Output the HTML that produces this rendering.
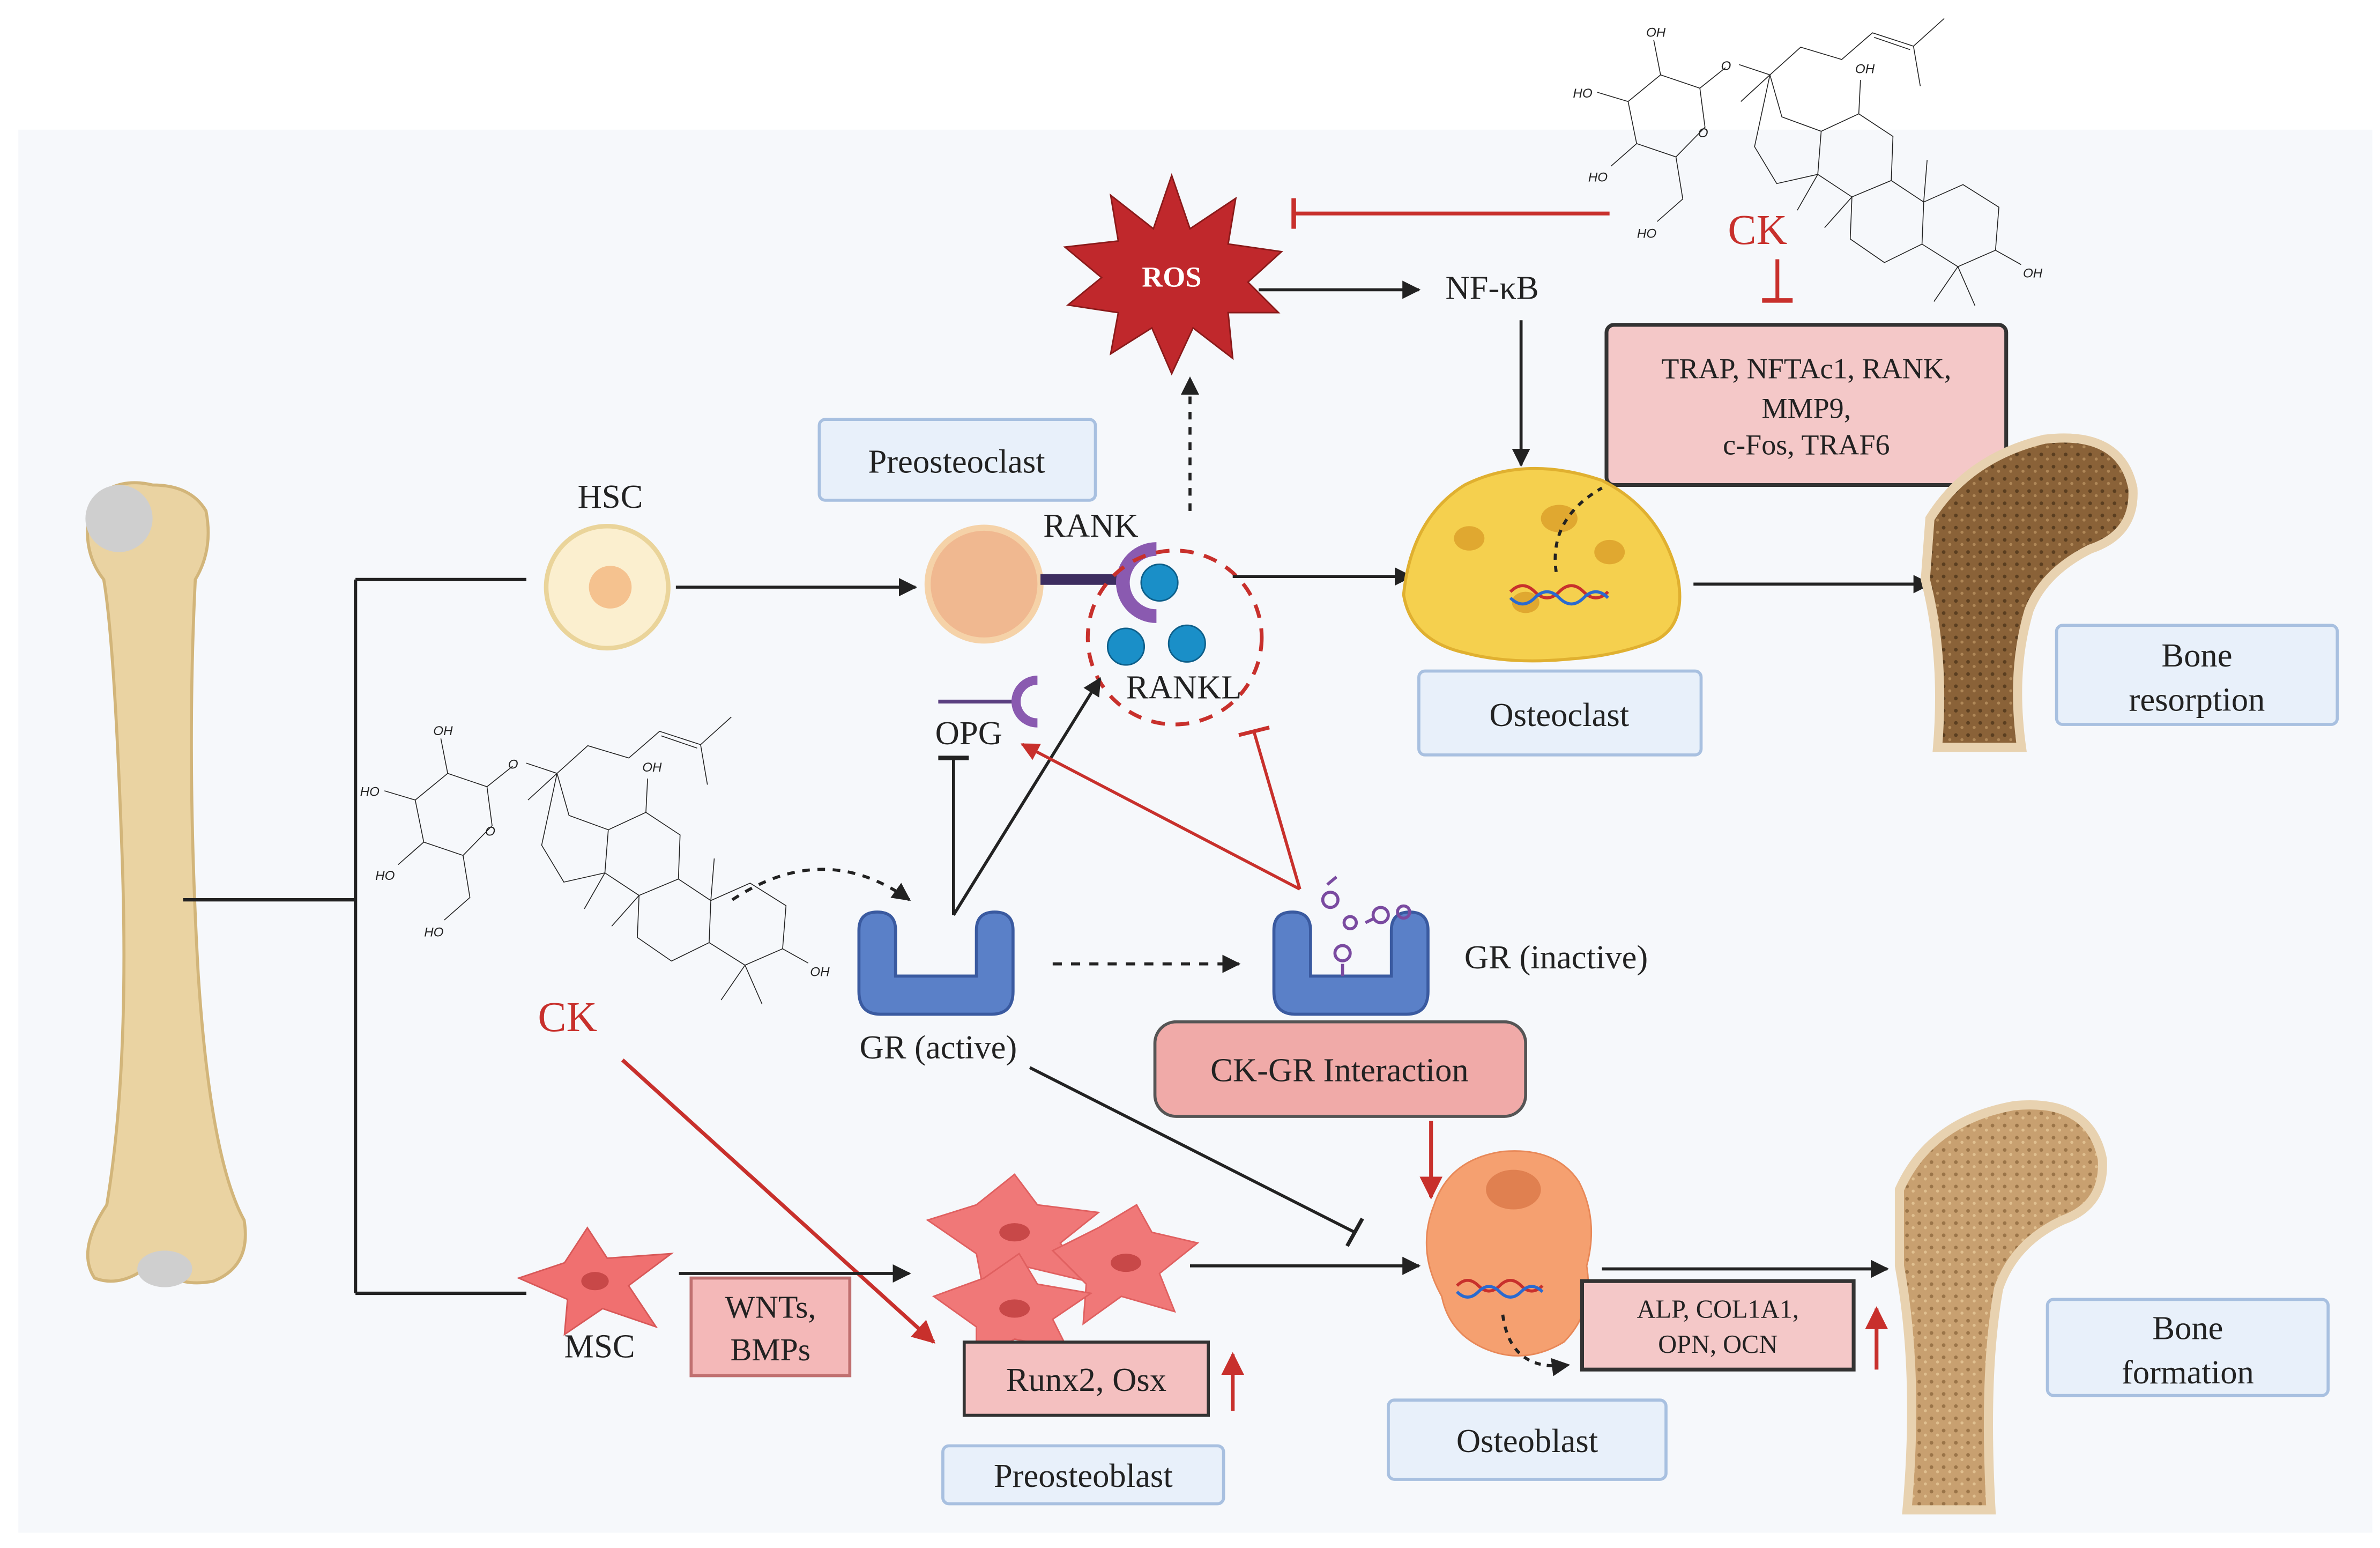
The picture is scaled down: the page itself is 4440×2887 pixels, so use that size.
<!DOCTYPE html>
<html><head><meta charset="utf-8"><style>
html,body{margin:0;padding:0;background:#fff;}
svg{display:block;}
text{font-family:"Liberation Serif",serif;fill:#222;}
.m{fill:none;stroke:#222;stroke-width:1.6;}
.mt{font-family:"Liberation Sans",sans-serif;font-size:8.5px;font-style:italic;fill:#222;}
</style></head><body>
<svg width="4440" height="2887" viewBox="0 0 1560 1015" preserveAspectRatio="none" xmlns="http://www.w3.org/2000/svg">
<defs>
<marker id="ab" viewBox="0 0 10 10" refX="9" refY="5" markerWidth="6" markerHeight="6" orient="auto"><path d="M0,0 L10,5 L0,10 z" fill="#222"/></marker>
<marker id="ar" viewBox="0 0 10 10" refX="9" refY="5" markerWidth="6" markerHeight="6" orient="auto"><path d="M0,0 L10,5 L0,10 z" fill="#c8302c"/></marker>
<pattern id="sp" width="8" height="8" patternUnits="userSpaceOnUse"><rect width="8" height="8" fill="#8a6238"/><circle cx="2" cy="2" r="1.2" fill="#5a3e20"/><circle cx="6" cy="5" r="1" fill="#b08858"/></pattern>
<pattern id="sp2" width="8" height="8" patternUnits="userSpaceOnUse"><rect width="8" height="8" fill="#c8a070"/><circle cx="2" cy="2" r="1.2" fill="#9a7448"/><circle cx="6" cy="5" r="1" fill="#e0c090"/></pattern>
<g id="mol">
<path vector-effect="non-scaling-stroke" class="m" d="M310,365 L425,430 L440,620 L355,765 L240,700 L215,495 Z M310,365 L290,195 M215,495 L125,450 M240,700 L165,810 M355,765 L375,970 L300,1080 M425,430 L500,330 M540,315 L630,365 L545,495 M630,365 L720,230 L840,290 L930,160 L1050,225 L1140,90 M1050,225 L1070,420 M935,182 L1040,242 M630,365 L665,570 L780,640 L770,850 L650,895 L585,715 Z M780,640 L890,555 L990,665 L985,880 L870,960 L770,850 M890,555 L895,390 M770,850 L710,1025 M870,960 L790,1110 M985,880 L1080,985 L1075,1190 L965,1280 L865,1165 L870,960 M1080,985 L1195,900 L1300,1010 L1290,1220 L1180,1300 L1075,1190 M1080,985 L1090,780 M1290,1220 L1365,1290 M1180,1300 L1110,1470 M1180,1300 L1230,1490"/>
</g>
</defs>
<rect x="0" y="0" width="1560" height="1015" fill="#fff"/>
<rect x="12" y="85" width="1543" height="920" fill="#f6f8fb"/>

<g transform="translate(1019,0) scale(0.224,0.1345)"><use href="#mol"/></g>
<g transform="translate(224,458) scale(0.224,0.1345)"><use href="#mol"/></g>
<text class="mt" x="1079" y="24">OH</text><text class="mt" x="1031" y="64">HO</text><text class="mt" x="1041" y="119">HO</text><text class="mt" x="1073" y="156">HO</text><text class="mt" x="1128" y="46">O</text><text class="mt" x="1113" y="90">O</text><text class="mt" x="1216" y="48">OH</text><text class="mt" x="1326" y="182">OH</text>
<text class="mt" x="284" y="482">OH</text><text class="mt" x="236" y="522">HO</text><text class="mt" x="246" y="577">HO</text><text class="mt" x="278" y="614">HO</text><text class="mt" x="333" y="504">O</text><text class="mt" x="318" y="548">O</text><text class="mt" x="421" y="506">OH</text><text class="mt" x="531" y="640">OH</text>

<path d="M60,330 Q75,312 100,318 Q125,318 135,335 Q140,360 128,380 Q122,500 130,640 Q138,760 160,800 Q165,830 140,840 Q115,845 100,828 Q80,845 62,838 Q50,820 70,790 Q85,700 80,560 Q75,420 68,380 Q52,360 60,330 Z" fill="#ead3a2" stroke="#d2b57a" stroke-width="2"/>
<circle cx="78" cy="340" r="22" fill="#cfcfcf"/>
<ellipse cx="108" cy="832" rx="18" ry="12" fill="#cfcfcf"/>

<g stroke="#222" stroke-width="2.2" fill="none">
<path d="M120,590 H233 M233,380 V848 M233,380 H345 M233,848 H345"/>
</g>

<circle cx="398" cy="385" r="40" fill="#fbefcf" stroke="#ead49a" stroke-width="3"/>
<circle cx="400" cy="385" r="14" fill="#f5c28f"/>
<text x="400" y="333" font-size="22" text-anchor="middle">HSC</text>
<line x1="443" y1="385" x2="600" y2="385" stroke="#222" stroke-width="2" marker-end="url(#ab)"/>

<rect x="537" y="275" width="181" height="53" rx="4" fill="#e8f0fa" stroke="#a8c0e0" stroke-width="2"/>
<text x="627" y="310" font-size="22" text-anchor="middle">Preosteoclast</text>
<circle cx="645" cy="383" r="37" fill="#f0b890" stroke="#f5d2a8" stroke-width="4"/>
<line x1="682" y1="380" x2="735" y2="380" stroke="#3d2d60" stroke-width="7"/>
<path d="M758,360 A22,22 0 1 0 758,404" fill="none" stroke="#8a5ab0" stroke-width="9"/>
<circle cx="760" cy="382" r="12" fill="#1a8fc8" stroke="#0d5f8a"/>
<circle cx="738" cy="424" r="12" fill="#1a8fc8" stroke="#0d5f8a"/>
<circle cx="778" cy="422" r="12" fill="#1a8fc8" stroke="#0d5f8a"/>
<circle cx="770" cy="418" r="57" fill="none" stroke="#c8302c" stroke-width="2.5" stroke-dasharray="9,7"/>
<text x="715" y="352" font-size="22" text-anchor="middle">RANK</text>
<text x="776" y="458" font-size="22" text-anchor="middle">RANKL</text>

<line x1="780" y1="335" x2="780" y2="248" stroke="#222" stroke-width="2" stroke-dasharray="5,5" marker-end="url(#ab)"/>
<path d="M768,115 L780,150 L810,130 L805,160 L840,165 L818,185 L838,205 L805,205 L808,235 L782,215 L768,245 L755,215 L728,232 L733,205 L700,200 L722,182 L698,162 L733,158 L728,128 L756,150 Z" fill="#c0282c" stroke="#8a1a1a"/>
<text x="768" y="188" font-size="19" font-weight="bold" text-anchor="middle" style="fill:#fff">ROS</text>
<line x1="825" y1="190" x2="930" y2="190" stroke="#222" stroke-width="2" marker-end="url(#ab)"/>
<text x="978" y="196" font-size="22" text-anchor="middle">NF-κB</text>
<line x1="1055" y1="140" x2="848" y2="140" stroke="#c8302c" stroke-width="2.5"/>
<line x1="848" y1="130" x2="848" y2="150" stroke="#c8302c" stroke-width="3"/>
<line x1="997" y1="210" x2="997" y2="305" stroke="#222" stroke-width="2" marker-end="url(#ab)"/>
<text x="1152" y="160" font-size="28" text-anchor="middle" style="fill:#c8302c">CK</text>
<line x1="1165" y1="170" x2="1165" y2="196" stroke="#c8302c" stroke-width="2.5"/>
<line x1="1155" y1="197" x2="1175" y2="197" stroke="#c8302c" stroke-width="3"/>
<rect x="1053" y="213" width="262" height="105" rx="5" fill="#f4c8c8" stroke="#333" stroke-width="2.5"/>
<text x="1184" y="248" font-size="19" text-anchor="middle">TRAP, NFTAc1, RANK,</text>
<text x="1184" y="274" font-size="19" text-anchor="middle">MMP9,</text>
<text x="1184" y="298" font-size="19" text-anchor="middle">c-Fos,  TRAF6</text>

<line x1="808" y1="378" x2="925" y2="378" stroke="#222" stroke-width="2" marker-end="url(#ab)"/>
<path d="M920,390 Q925,340 960,318 Q1000,298 1050,315 Q1090,335 1100,380 Q1105,410 1085,420 Q1060,430 1030,432 Q990,436 960,428 Q925,420 920,390 Z" fill="#f5d04e" stroke="#e0b030" stroke-width="2"/>
<ellipse cx="963" cy="353" rx="10" ry="8" fill="#e0a830"/><ellipse cx="1022" cy="340" rx="12" ry="9" fill="#e0a830"/><ellipse cx="1055" cy="362" rx="10" ry="8" fill="#e0a830"/><ellipse cx="1000" cy="395" rx="9" ry="7" fill="#e0a830"/>
<path d="M990,388 q8,-8 16,0 t16,0 t16,0 t16,0" fill="none" stroke="#c8302c" stroke-width="2"/>
<path d="M990,392 q8,8 16,0 t16,0 t16,0 t16,0" fill="none" stroke="#2a6ad0" stroke-width="2"/>
<path d="M1020,375 Q1015,340 1050,320" fill="none" stroke="#222" stroke-width="2" stroke-dasharray="4,4"/>
<rect x="930" y="440" width="185" height="55" rx="4" fill="#e8f0fa" stroke="#a8c0e0" stroke-width="2"/>
<text x="1022" y="476" font-size="22" text-anchor="middle">Osteoclast</text>
<line x1="1110" y1="383" x2="1265" y2="383" stroke="#222" stroke-width="2" marker-end="url(#ab)"/>

<path d="M1265,340 Q1290,300 1340,288 Q1390,282 1398,320 Q1400,350 1370,360 Q1340,375 1330,400 Q1318,440 1325,490 L1270,490 Q1275,430 1262,380 Z" fill="url(#sp)" stroke="#e8d2b0" stroke-width="6"/>
<rect x="1348" y="410" width="184" height="65" rx="4" fill="#e8f0fa" stroke="#a8c0e0" stroke-width="2"/>
<text x="1440" y="437" font-size="22" text-anchor="middle">Bone</text>
<text x="1440" y="466" font-size="22" text-anchor="middle">resorption</text>

<line x1="615" y1="460" x2="665" y2="460" stroke="#5a3f80" stroke-width="2.5"/>
<path d="M680,446 A14,14 0 1 0 680,474" fill="none" stroke="#8a5ab0" stroke-width="6"/>
<text x="635" y="488" font-size="22" text-anchor="middle">OPG</text>
<line x1="625" y1="600" x2="625" y2="497" stroke="#222" stroke-width="2"/>
<line x1="615" y1="497" x2="635" y2="497" stroke="#222" stroke-width="3"/>
<line x1="625" y1="600" x2="721" y2="445" stroke="#222" stroke-width="2" marker-end="url(#ab)"/>
<line x1="852" y1="583" x2="670" y2="488" stroke="#c8302c" stroke-width="2" marker-end="url(#ar)"/>
<line x1="852" y1="583" x2="822" y2="480" stroke="#c8302c" stroke-width="2"/>
<line x1="812" y1="482" x2="832" y2="477" stroke="#c8302c" stroke-width="2.5"/>

<path d="M480,590 Q540,550 596,590" fill="none" stroke="#222" stroke-width="2" stroke-dasharray="5,5" marker-end="url(#ab)"/>
<path d="M563,610 Q563,598 575,598 Q587,598 587,610 V640 H640 V610 Q640,598 652,598 Q664,598 664,610 V650 Q664,665 650,665 H577 Q563,665 563,650 Z" fill="#5a80c8" stroke="#3a5aa0" stroke-width="2"/>
<text x="615" y="694" font-size="22" text-anchor="middle">GR (active)</text>
<line x1="690" y1="632" x2="812" y2="632" stroke="#222" stroke-width="2" stroke-dasharray="6,6" marker-end="url(#ab)"/>
<path d="M835,610 Q835,598 847,598 Q859,598 859,610 V640 H912 V610 Q912,598 924,598 Q936,598 936,610 V650 Q936,665 922,665 H849 Q835,665 835,650 Z" fill="#5a80c8" stroke="#3a5aa0" stroke-width="2"/>
<g fill="none" stroke="#7a4aa0" stroke-width="2"><circle cx="872" cy="590" r="5"/><circle cx="885" cy="605" r="4"/><circle cx="905" cy="600" r="5"/><circle cx="920" cy="598" r="4"/><circle cx="880" cy="625" r="5"/><path d="M870,580 l6,-5 M895,605 l6,-3 M880,632 v8"/></g>
<text x="1020" y="635" font-size="22" text-anchor="middle">GR (inactive)</text>
<rect x="757" y="670" width="243" height="62" rx="14" fill="#f0aaa8" stroke="#555" stroke-width="2"/>
<text x="878" y="709" font-size="22" text-anchor="middle">CK-GR Interaction</text>
<line x1="938" y1="735" x2="938" y2="785" stroke="#c8302c" stroke-width="2.5" marker-end="url(#ar)"/>
<line x1="675" y1="700" x2="888" y2="808" stroke="#222" stroke-width="2"/>
<line x1="883" y1="817" x2="893" y2="799" stroke="#222" stroke-width="2.5"/>

<text x="372" y="676" font-size="28" text-anchor="middle" style="fill:#c8302c">CK</text>
<line x1="408" y1="695" x2="612" y2="880" stroke="#c8302c" stroke-width="2.5" marker-end="url(#ar)"/>

<path d="M340,838 L370,828 L385,805 L398,825 L440,822 L412,843 L430,870 L395,858 L370,875 L372,852 Z" fill="#f07070" stroke="#d85858"/>
<ellipse cx="390" cy="840" rx="9" ry="6" fill="#c84848"/>
<text x="393" y="890" font-size="22" text-anchor="middle">MSC</text>
<line x1="445" y1="835" x2="596" y2="835" stroke="#222" stroke-width="2" marker-end="url(#ab)"/>
<rect x="453" y="838" width="104" height="64" fill="#f4b8b8" stroke="#c07070" stroke-width="2"/>
<text x="505" y="864" font-size="21" text-anchor="middle">WNTs,</text>
<text x="505" y="892" font-size="21" text-anchor="middle">BMPs</text>

<g fill="#f07878" stroke="#e06060">
<path d="M608,800 L640,790 L665,770 L680,790 L720,795 L695,815 L712,840 L670,830 L645,848 L640,822 Z"/>
<path d="M690,820 L720,805 L745,790 L755,808 L785,815 L760,835 L770,860 L735,850 L710,868 L712,842 Z"/>
<path d="M612,850 L645,838 L668,822 L680,842 L715,848 L690,865 L700,885 L665,878 L640,892 L640,870 Z"/>
</g>
<ellipse cx="665" cy="808" rx="10" ry="6" fill="#c84848"/><ellipse cx="738" cy="828" rx="10" ry="6" fill="#c84848"/><ellipse cx="665" cy="858" rx="10" ry="6" fill="#c84848"/>
<rect x="632" y="880" width="160" height="48" fill="#f4c0c0" stroke="#333" stroke-width="2"/>
<text x="712" y="912" font-size="22" text-anchor="middle">Runx2, Osx</text>
<line x1="808" y1="925" x2="808" y2="888" stroke="#c8302c" stroke-width="2.5" marker-end="url(#ar)"/>
<rect x="618" y="948" width="184" height="38" rx="4" fill="#e8f0fa" stroke="#a8c0e0" stroke-width="2"/>
<text x="710" y="975" font-size="22" text-anchor="middle">Preosteoblast</text>
<line x1="780" y1="830" x2="930" y2="830" stroke="#222" stroke-width="2" marker-end="url(#ab)"/>

<path d="M940,790 Q950,760 985,755 Q1020,752 1035,775 Q1048,800 1040,830 Q1045,860 1025,880 Q1000,895 975,885 Q950,875 945,850 Q928,820 940,790 Z" fill="#f5a070" stroke="#e88858"/>
<ellipse cx="992" cy="780" rx="18" ry="13" fill="#e08050"/>
<path d="M955,843 q7,-7 14,0 t14,0 t14,0 t14,0" fill="none" stroke="#c8302c" stroke-width="2"/>
<path d="M955,847 q7,7 14,0 t14,0 t14,0 t14,0" fill="none" stroke="#2a6ad0" stroke-width="2"/>
<path d="M985,862 Q990,900 1028,895" fill="none" stroke="#222" stroke-width="2" stroke-dasharray="4,4" marker-end="url(#ab)"/>
<line x1="1050" y1="832" x2="1237" y2="832" stroke="#222" stroke-width="2" marker-end="url(#ab)"/>
<rect x="1037" y="840" width="178" height="58" fill="#f4c8c8" stroke="#333" stroke-width="2.5"/>
<text x="1126" y="864" font-size="17" text-anchor="middle">ALP, COL1A1,</text>
<text x="1126" y="887" font-size="17" text-anchor="middle">OPN, OCN</text>
<line x1="1230" y1="898" x2="1230" y2="858" stroke="#c8302c" stroke-width="2.5" marker-end="url(#ar)"/>
<rect x="910" y="918" width="182" height="52" rx="4" fill="#e8f0fa" stroke="#a8c0e0" stroke-width="2"/>
<text x="1001" y="952" font-size="22" text-anchor="middle">Osteoblast</text>

<path d="M1245,780 Q1265,735 1320,725 Q1370,720 1378,760 Q1380,790 1352,800 Q1320,815 1310,845 Q1300,900 1305,990 L1250,990 Q1258,900 1245,830 Z" fill="url(#sp2)" stroke="#e8d2b0" stroke-width="6"/>
<rect x="1342" y="852" width="184" height="63" rx="4" fill="#e8f0fa" stroke="#a8c0e0" stroke-width="2"/>
<text x="1434" y="878" font-size="22" text-anchor="middle">Bone</text>
<text x="1434" y="907" font-size="22" text-anchor="middle">formation</text>
</svg>
</body></html>
